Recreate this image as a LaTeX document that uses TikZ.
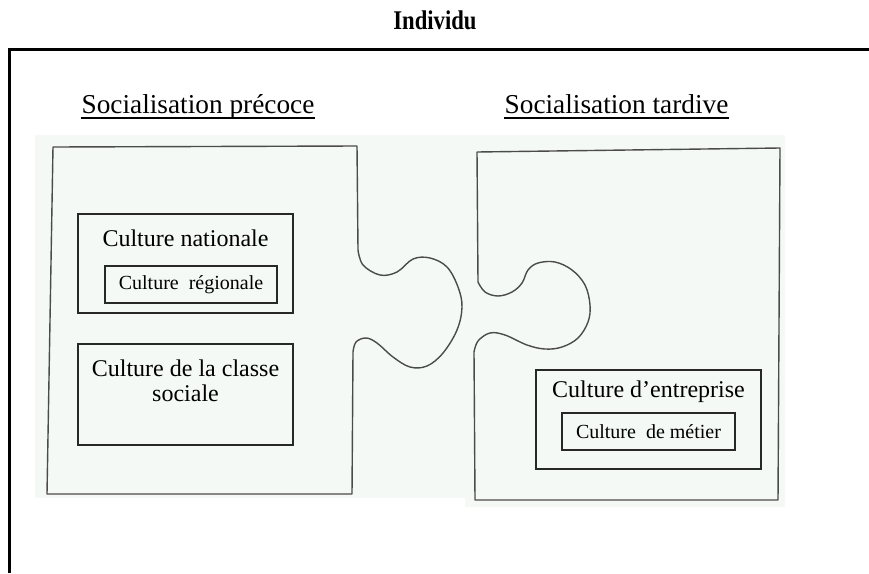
\documentclass[tikz,border=0pt]{standalone}
\usepackage{fontspec}
\setmainfont{Liberation Serif}
\definecolor{scanbg}{RGB}{245,249,246}
\definecolor{pencil}{RGB}{75,75,75}
\definecolor{boxline}{RGB}{40,40,40}
\tikzset{
  piece/.style={draw=pencil, line width=1.4pt, line join=round},
  cbox/.style={draw=boxline, line width=1.1pt, inner sep=0pt},
  bigtxt/.style={inner sep=0pt, font=\fontsize{24}{25}\selectfont},
  smalltxt/.style={inner sep=0pt, font=\fontsize{20}{21}\selectfont},
  headtxt/.style={inner sep=0pt, anchor=base, font=\fontsize{27.3}{28}\selectfont},
}
\begin{document}
\begin{tikzpicture}[x=1pt,y=-1pt]
\useasboundingbox (0,0) rectangle (869,573);
% scanned paper background
\fill[scanbg] (35,135) rectangle (470,498);
\fill[scanbg] (465,135) rectangle (785,507);
% outer frame
\draw[line width=3pt] (9,573) -- (9,49) -- (869,49);
% title
\node[inner sep=0pt, xscale=0.84, font=\fontsize{27}{28}\selectfont\bfseries] (title) at (435,20) {Individu};
% headings
\node[headtxt] (sp) at (198,113) {Socialisation précoce};
\draw[line width=1.2pt] ([yshift=-5pt]sp.base west) -- ([yshift=-5pt]sp.base east);
\node[headtxt] (st) at (616.5,113) {Socialisation tardive};
\draw[line width=1.2pt] ([yshift=-5pt]st.base west) -- ([yshift=-5pt]st.base east);
% left puzzle piece
\draw[piece] (357,146) -- (358,250)
  -- plot[smooth, tension=0.6] coordinates {(358,250) (363,265) (380,275) (397,272) (413,259) (430,258) (447,267) (458,287) (462,307) (457,330) (443,353) (427,366) (410,367) (393,357) (377,343) (366,338) (356,342) (353,352)}
  -- (352,494) -- (47,494) -- (53,147) -- cycle;
% right puzzle piece
\draw[piece] (477,152) -- (780,148) -- (778,500) -- (475,500) -- (474,352)
  -- plot[smooth, tension=0.6] coordinates {(474,352) (478,341) (490,333) (505,335) (527,345) (545,349) (562,347) (578,338) (588,322) (590,305) (585,285) (572,270) (555,262) (538,263) (528,270) (522,283) (512,292) (498,296) (485,292) (478,282)}
  -- cycle;
% left boxes
\node[cbox, minimum width=215pt, minimum height=99pt] (cn) at (185.5,263.5) {};
\node[bigtxt] (cnt) at (185.5,238) {Culture nationale};
\node[cbox, minimum width=172pt, minimum height=37pt, smalltxt] (cr) at (191,284.5) {Culture\ \ régionale};
\node[cbox, minimum width=215pt, minimum height=101pt] (cc) at (185.5,394.5) {};
\node[bigtxt, align=center] (cct) at (185.5,381) {Culture de la classe\\sociale};
% right boxes
\node[cbox, minimum width=225pt, minimum height=99pt] (ce) at (648.5,419.5) {};
\node[bigtxt] (cet) at (648.5,392) {Culture d’entreprise};
\node[cbox, minimum width=173pt, minimum height=37pt, smalltxt] (cm) at (648.5,431.5) {Culture\ \ de métier};
\end{tikzpicture}
\end{document}
